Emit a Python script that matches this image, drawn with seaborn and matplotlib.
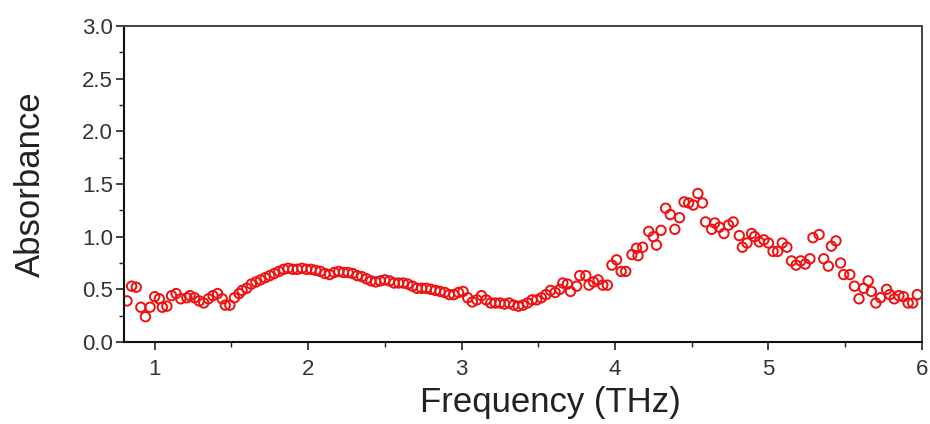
import matplotlib
matplotlib.use("Agg")
import matplotlib.pyplot as plt
import seaborn as sns
import pandas as pd
from matplotlib.ticker import MultipleLocator

freq = [0.82, 0.85, 0.88, 0.91, 0.94, 0.97, 1.00, 1.03, 1.05, 1.08, 1.11, 1.14, 1.17, 1.21,
        1.23, 1.26, 1.29, 1.32, 1.35, 1.38, 1.41, 1.44, 1.46, 1.49, 1.52, 1.55, 1.57, 1.60,
        1.63, 1.66, 1.69, 1.72, 1.75, 1.78, 1.81, 1.84, 1.87, 1.90, 1.93, 1.96, 1.99, 2.02,
        2.05, 2.08, 2.11, 2.14, 2.17, 2.20, 2.23, 2.26, 2.29, 2.32, 2.35, 2.38, 2.41, 2.44,
        2.47, 2.50, 2.53, 2.56, 2.59, 2.62, 2.65, 2.68, 2.71, 2.74, 2.77, 2.80, 2.83, 2.86,
        2.89, 2.92, 2.95, 2.98, 3.01, 3.04, 3.07, 3.10, 3.13, 3.16, 3.19, 3.22, 3.25, 3.28,
        3.31, 3.34, 3.37, 3.40, 3.43, 3.46, 3.49, 3.52, 3.55, 3.58, 3.61, 3.64, 3.66, 3.69,
        3.71, 3.75, 3.77, 3.81, 3.83, 3.86, 3.89, 3.92, 3.95, 3.98, 4.01, 4.04, 4.07, 4.11,
        4.14, 4.15, 4.18, 4.22, 4.25, 4.27, 4.30, 4.33, 4.36, 4.39, 4.42, 4.45, 4.48, 4.51,
        4.54, 4.57, 4.59, 4.63, 4.65, 4.68, 4.71, 4.74, 4.77, 4.81, 4.83, 4.86, 4.89, 4.91,
        4.94, 4.97, 5.00, 5.03, 5.06, 5.09, 5.12, 5.15, 5.18, 5.21, 5.24, 5.27, 5.29, 5.33,
        5.36, 5.39, 5.41, 5.44, 5.47, 5.49, 5.53, 5.56, 5.59, 5.62, 5.65, 5.67, 5.70, 5.73,
        5.77, 5.79, 5.82, 5.85, 5.88, 5.91, 5.94, 5.97]

absorbance = [0.39, 0.53, 0.52, 0.33, 0.24, 0.33, 0.43, 0.41, 0.33, 0.34, 0.44, 0.46, 0.41, 0.42,
              0.44, 0.42, 0.39, 0.37, 0.41, 0.44, 0.46, 0.41, 0.35, 0.35, 0.42, 0.46, 0.49, 0.51,
              0.55, 0.57, 0.59, 0.61, 0.63, 0.65, 0.67, 0.69, 0.70, 0.69, 0.69, 0.70, 0.69, 0.69,
              0.68, 0.67, 0.65, 0.64, 0.66, 0.67, 0.66, 0.66, 0.65, 0.63, 0.62, 0.60, 0.58, 0.57,
              0.58, 0.59, 0.58, 0.56, 0.56, 0.56, 0.55, 0.53, 0.51, 0.51, 0.51, 0.50, 0.49, 0.48,
              0.47, 0.45, 0.45, 0.47, 0.48, 0.42, 0.38, 0.40, 0.44, 0.40, 0.37, 0.37, 0.37, 0.36,
              0.37, 0.35, 0.34, 0.35, 0.37, 0.40, 0.40, 0.42, 0.45, 0.49, 0.47, 0.50, 0.56, 0.55,
              0.48, 0.53, 0.63, 0.63, 0.54, 0.57, 0.59, 0.54, 0.54, 0.73, 0.78, 0.67, 0.67, 0.83,
              0.89, 0.82, 0.90, 1.05, 1.00, 0.92, 1.06, 1.27, 1.21, 1.07, 1.18, 1.33, 1.32, 1.30,
              1.41, 1.32, 1.14, 1.07, 1.13, 1.09, 1.03, 1.11, 1.14, 1.01, 0.90, 0.94, 1.03, 1.00,
              0.95, 0.97, 0.94, 0.86, 0.86, 0.94, 0.90, 0.77, 0.73, 0.77, 0.74, 0.79, 0.99, 1.02,
              0.79, 0.72, 0.91, 0.96, 0.75, 0.64, 0.64, 0.53, 0.41, 0.51, 0.58, 0.48, 0.37, 0.42,
              0.50, 0.45, 0.41, 0.44, 0.43, 0.37, 0.37, 0.45]

x_ticks = [1, 2, 3, 4, 5, 6]
y_ticks = [0.0, 0.5, 1.0, 1.5, 2.0, 2.5, 3.0]

df = pd.DataFrame({"Frequency": freq, "Absorbance": absorbance})

sns.set_theme(style="ticks")
plt.rcParams["font.family"] = ["Liberation Sans", "DejaVu Sans"]

fig = plt.figure(figsize=(9.3, 4.24), dpi=100)
ax = fig.add_axes([0.1333, 0.1934, 0.858, 0.7453])

sns.scatterplot(data=df, x="Frequency", y="Absorbance", ax=ax, marker="o", s=46,
                facecolors="none", edgecolor="#f01010", linewidth=1.4, legend=False)

ax.set_xlim(0.8, 6.0)
ax.set_ylim(0.0, 3.0)
ax.set_xticks(x_ticks)
ax.set_xticklabels([str(t) for t in x_ticks])
ax.set_yticks(y_ticks)
ax.set_yticklabels([f"{t:.1f}" for t in y_ticks])
ax.xaxis.set_minor_locator(MultipleLocator(0.5))
ax.yaxis.set_minor_locator(MultipleLocator(0.25))

ax.tick_params(axis="both", which="major", direction="out", length=6, width=1.2,
               labelsize=16, colors="#222222", labelcolor="#333333")
ax.tick_params(axis="both", which="minor", direction="out", length=3.5, width=1.0, colors="#222222")
ax.tick_params(axis="x", pad=6)
ax.tick_params(axis="y", pad=2)

for side in ["left", "bottom"]:
    ax.spines[side].set_color("#111111")
    ax.spines[side].set_linewidth(1.5)
for side in ["top", "right"]:
    ax.spines[side].set_visible(True)
    ax.spines[side].set_color("#444444")
    ax.spines[side].set_linewidth(1.4)

ax.set_xlabel("Frequency (THz)", fontsize=25, color="#222222")
ax.set_ylabel("Absorbance", fontsize=25, color="#222222")
ax.xaxis.set_label_coords(0.534, -0.14)
ax.yaxis.set_label_coords(-0.097, 0.5)

fig.savefig("out.png", dpi=100)
